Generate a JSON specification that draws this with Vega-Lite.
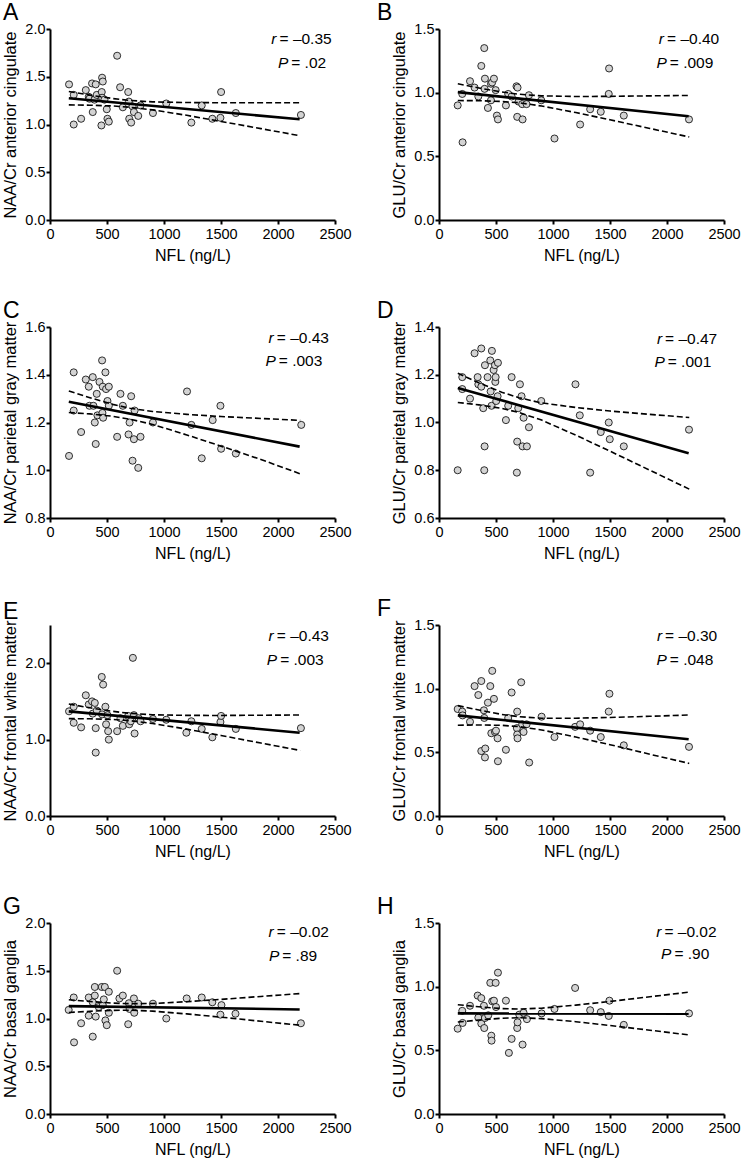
{
"$schema": "https://vega.github.io/schema/vega-lite/v6.json",
"padding": {"left": 2, "top": 2, "right": 0, "bottom": 0},
"bounds": "flush",
"columns": 2,
"spacing": {"row": 107, "column": 104},
"datasets": {
"pts": [
{"p":"A","nfl":167,"val":1.42},{"p":"A","nfl":208,"val":1.31},{"p":"A","nfl":208,"val":1.00},{"p":"A","nfl":273,"val":1.06},{"p":"A","nfl":314,"val":1.36},{"p":"A","nfl":340,"val":1.29},{"p":"A","nfl":346,"val":1.27},{"p":"A","nfl":369,"val":1.43},{"p":"A","nfl":375,"val":1.13},{"p":"A","nfl":390,"val":1.26},{"p":"A","nfl":401,"val":1.42},{"p":"A","nfl":410,"val":1.31},{"p":"A","nfl":451,"val":0.99},{"p":"A","nfl":457,"val":1.49},{"p":"A","nfl":463,"val":1.45},{"p":"A","nfl":454,"val":1.34},{"p":"A","nfl":457,"val":1.28},{"p":"A","nfl":478,"val":1.26},{"p":"A","nfl":498,"val":1.16},{"p":"A","nfl":504,"val":1.06},{"p":"A","nfl":516,"val":1.03},{"p":"A","nfl":589,"val":1.72},{"p":"A","nfl":615,"val":1.39},{"p":"A","nfl":639,"val":1.18},{"p":"A","nfl":686,"val":1.34},{"p":"A","nfl":692,"val":1.24},{"p":"A","nfl":695,"val":1.06},{"p":"A","nfl":712,"val":1.02},{"p":"A","nfl":724,"val":1.19},{"p":"A","nfl":736,"val":1.13},{"p":"A","nfl":774,"val":1.09},{"p":"A","nfl":794,"val":1.20},{"p":"A","nfl":903,"val":1.12},{"p":"A","nfl":1020,"val":1.22},{"p":"A","nfl":1240,"val":1.02},{"p":"A","nfl":1331,"val":1.20},{"p":"A","nfl":1424,"val":1.06},{"p":"A","nfl":1495,"val":1.07},{"p":"A","nfl":1501,"val":1.34},{"p":"A","nfl":1630,"val":1.12},{"p":"A","nfl":2201,"val":1.10},
{"p":"B","nfl":164,"val":0.90},{"p":"B","nfl":204,"val":0.99},{"p":"B","nfl":207,"val":0.61},{"p":"B","nfl":272,"val":1.09},{"p":"B","nfl":312,"val":1.04},{"p":"B","nfl":345,"val":0.97},{"p":"B","nfl":371,"val":1.21},{"p":"B","nfl":397,"val":1.35},{"p":"B","nfl":403,"val":1.11},{"p":"B","nfl":400,"val":1.03},{"p":"B","nfl":429,"val":0.88},{"p":"B","nfl":456,"val":1.07},{"p":"B","nfl":466,"val":1.08},{"p":"B","nfl":456,"val":0.94},{"p":"B","nfl":482,"val":1.11},{"p":"B","nfl":497,"val":1.02},{"p":"B","nfl":508,"val":0.82},{"p":"B","nfl":517,"val":0.79},{"p":"B","nfl":587,"val":0.90},{"p":"B","nfl":607,"val":0.99},{"p":"B","nfl":637,"val":0.97},{"p":"B","nfl":680,"val":1.05},{"p":"B","nfl":689,"val":1.04},{"p":"B","nfl":686,"val":0.81},{"p":"B","nfl":698,"val":0.93},{"p":"B","nfl":730,"val":0.91},{"p":"B","nfl":733,"val":0.79},{"p":"B","nfl":768,"val":0.91},{"p":"B","nfl":789,"val":0.98},{"p":"B","nfl":897,"val":0.94},{"p":"B","nfl":1013,"val":0.64},{"p":"B","nfl":1238,"val":0.75},{"p":"B","nfl":1326,"val":0.87},{"p":"B","nfl":1419,"val":0.85},{"p":"B","nfl":1492,"val":1.19},{"p":"B","nfl":1489,"val":0.99},{"p":"B","nfl":1621,"val":0.82},{"p":"B","nfl":2193,"val":0.79},
{"p":"C","nfl":167,"val":1.06},{"p":"C","nfl":208,"val":1.41},{"p":"C","nfl":208,"val":1.25},{"p":"C","nfl":273,"val":1.16},{"p":"C","nfl":314,"val":1.38},{"p":"C","nfl":340,"val":1.35},{"p":"C","nfl":346,"val":1.27},{"p":"C","nfl":375,"val":1.39},{"p":"C","nfl":381,"val":1.27},{"p":"C","nfl":393,"val":1.20},{"p":"C","nfl":401,"val":1.11},{"p":"C","nfl":410,"val":1.32},{"p":"C","nfl":416,"val":1.23},{"p":"C","nfl":434,"val":1.37},{"p":"C","nfl":457,"val":1.46},{"p":"C","nfl":463,"val":1.35},{"p":"C","nfl":460,"val":1.24},{"p":"C","nfl":466,"val":1.22},{"p":"C","nfl":486,"val":1.41},{"p":"C","nfl":492,"val":1.34},{"p":"C","nfl":504,"val":1.29},{"p":"C","nfl":516,"val":1.35},{"p":"C","nfl":516,"val":1.27},{"p":"C","nfl":589,"val":1.14},{"p":"C","nfl":618,"val":1.32},{"p":"C","nfl":639,"val":1.27},{"p":"C","nfl":689,"val":1.15},{"p":"C","nfl":698,"val":1.20},{"p":"C","nfl":712,"val":1.31},{"p":"C","nfl":724,"val":1.04},{"p":"C","nfl":736,"val":1.13},{"p":"C","nfl":742,"val":1.25},{"p":"C","nfl":774,"val":1.01},{"p":"C","nfl":794,"val":1.14},{"p":"C","nfl":903,"val":1.20},{"p":"C","nfl":1202,"val":1.33},{"p":"C","nfl":1240,"val":1.19},{"p":"C","nfl":1331,"val":1.05},{"p":"C","nfl":1427,"val":1.21},{"p":"C","nfl":1495,"val":1.27},{"p":"C","nfl":1501,"val":1.09},{"p":"C","nfl":1630,"val":1.07},{"p":"C","nfl":2204,"val":1.19},
{"p":"D","nfl":164,"val":0.80},{"p":"D","nfl":204,"val":1.19},{"p":"D","nfl":204,"val":1.14},{"p":"D","nfl":272,"val":1.10},{"p":"D","nfl":312,"val":1.29},{"p":"D","nfl":339,"val":1.19},{"p":"D","nfl":345,"val":1.16},{"p":"D","nfl":371,"val":1.31},{"p":"D","nfl":371,"val":1.15},{"p":"D","nfl":388,"val":1.06},{"p":"D","nfl":400,"val":0.90},{"p":"D","nfl":397,"val":0.80},{"p":"D","nfl":403,"val":1.24},{"p":"D","nfl":426,"val":1.19},{"p":"D","nfl":450,"val":1.26},{"p":"D","nfl":453,"val":1.13},{"p":"D","nfl":461,"val":1.07},{"p":"D","nfl":464,"val":1.30},{"p":"D","nfl":479,"val":1.22},{"p":"D","nfl":491,"val":1.24},{"p":"D","nfl":494,"val":1.17},{"p":"D","nfl":497,"val":1.19},{"p":"D","nfl":502,"val":1.09},{"p":"D","nfl":514,"val":1.11},{"p":"D","nfl":517,"val":1.25},{"p":"D","nfl":587,"val":1.01},{"p":"D","nfl":607,"val":1.07},{"p":"D","nfl":637,"val":1.19},{"p":"D","nfl":686,"val":0.92},{"p":"D","nfl":683,"val":0.79},{"p":"D","nfl":695,"val":1.06},{"p":"D","nfl":710,"val":1.16},{"p":"D","nfl":724,"val":1.11},{"p":"D","nfl":733,"val":0.90},{"p":"D","nfl":742,"val":1.02},{"p":"D","nfl":771,"val":0.90},{"p":"D","nfl":789,"val":0.98},{"p":"D","nfl":897,"val":1.09},{"p":"D","nfl":1197,"val":1.16},{"p":"D","nfl":1235,"val":1.03},{"p":"D","nfl":1326,"val":0.79},{"p":"D","nfl":1419,"val":0.96},{"p":"D","nfl":1489,"val":1.00},{"p":"D","nfl":1498,"val":0.93},{"p":"D","nfl":1621,"val":0.90},{"p":"D","nfl":2193,"val":0.97},
{"p":"E","nfl":167,"val":1.37},{"p":"E","nfl":208,"val":1.43},{"p":"E","nfl":208,"val":1.22},{"p":"E","nfl":273,"val":1.16},{"p":"E","nfl":314,"val":1.58},{"p":"E","nfl":340,"val":1.46},{"p":"E","nfl":369,"val":1.50},{"p":"E","nfl":375,"val":1.34},{"p":"E","nfl":393,"val":1.48},{"p":"E","nfl":401,"val":0.83},{"p":"E","nfl":401,"val":1.15},{"p":"E","nfl":410,"val":1.38},{"p":"E","nfl":454,"val":1.82},{"p":"E","nfl":466,"val":1.72},{"p":"E","nfl":457,"val":1.33},{"p":"E","nfl":486,"val":1.43},{"p":"E","nfl":492,"val":1.20},{"p":"E","nfl":504,"val":1.32},{"p":"E","nfl":510,"val":1.11},{"p":"E","nfl":516,"val":1.00},{"p":"E","nfl":589,"val":1.11},{"p":"E","nfl":618,"val":1.28},{"p":"E","nfl":639,"val":1.18},{"p":"E","nfl":686,"val":1.31},{"p":"E","nfl":695,"val":1.20},{"p":"E","nfl":709,"val":1.24},{"p":"E","nfl":727,"val":2.07},{"p":"E","nfl":736,"val":1.32},{"p":"E","nfl":742,"val":1.08},{"p":"E","nfl":777,"val":1.28},{"p":"E","nfl":794,"val":1.24},{"p":"E","nfl":903,"val":1.27},{"p":"E","nfl":1020,"val":1.26},{"p":"E","nfl":1196,"val":1.09},{"p":"E","nfl":1240,"val":1.24},{"p":"E","nfl":1331,"val":1.14},{"p":"E","nfl":1424,"val":1.03},{"p":"E","nfl":1495,"val":1.23},{"p":"E","nfl":1501,"val":1.31},{"p":"E","nfl":1630,"val":1.14},{"p":"E","nfl":2201,"val":1.15},
{"p":"F","nfl":164,"val":0.84},{"p":"F","nfl":204,"val":0.82},{"p":"F","nfl":207,"val":0.79},{"p":"F","nfl":272,"val":0.74},{"p":"F","nfl":312,"val":1.02},{"p":"F","nfl":345,"val":0.95},{"p":"F","nfl":371,"val":1.06},{"p":"F","nfl":371,"val":0.51},{"p":"F","nfl":394,"val":0.83},{"p":"F","nfl":397,"val":0.77},{"p":"F","nfl":403,"val":0.46},{"p":"F","nfl":406,"val":0.53},{"p":"F","nfl":429,"val":0.89},{"p":"F","nfl":450,"val":1.02},{"p":"F","nfl":459,"val":0.65},{"p":"F","nfl":467,"val":1.14},{"p":"F","nfl":482,"val":0.92},{"p":"F","nfl":491,"val":0.66},{"p":"F","nfl":500,"val":0.67},{"p":"F","nfl":514,"val":0.61},{"p":"F","nfl":517,"val":0.43},{"p":"F","nfl":587,"val":0.52},{"p":"F","nfl":607,"val":0.77},{"p":"F","nfl":637,"val":0.97},{"p":"F","nfl":686,"val":0.82},{"p":"F","nfl":683,"val":0.69},{"p":"F","nfl":686,"val":0.64},{"p":"F","nfl":689,"val":0.61},{"p":"F","nfl":721,"val":1.05},{"p":"F","nfl":730,"val":0.72},{"p":"F","nfl":742,"val":0.66},{"p":"F","nfl":768,"val":0.72},{"p":"F","nfl":791,"val":0.42},{"p":"F","nfl":900,"val":0.78},{"p":"F","nfl":1013,"val":0.62},{"p":"F","nfl":1194,"val":0.70},{"p":"F","nfl":1238,"val":0.72},{"p":"F","nfl":1326,"val":0.67},{"p":"F","nfl":1419,"val":0.62},{"p":"F","nfl":1489,"val":0.82},{"p":"F","nfl":1495,"val":0.96},{"p":"F","nfl":1621,"val":0.555},{"p":"F","nfl":2193,"val":0.543},
{"p":"G","nfl":164,"val":1.09},{"p":"G","nfl":208,"val":1.22},{"p":"G","nfl":211,"val":0.75},{"p":"G","nfl":273,"val":0.95},{"p":"G","nfl":340,"val":1.22},{"p":"G","nfl":340,"val":1.03},{"p":"G","nfl":375,"val":0.81},{"p":"G","nfl":375,"val":1.17},{"p":"G","nfl":393,"val":1.33},{"p":"G","nfl":393,"val":1.24},{"p":"G","nfl":401,"val":1.02},{"p":"G","nfl":428,"val":1.12},{"p":"G","nfl":454,"val":1.33},{"p":"G","nfl":463,"val":1.14},{"p":"G","nfl":472,"val":1.20},{"p":"G","nfl":481,"val":1.33},{"p":"G","nfl":486,"val":0.98},{"p":"G","nfl":498,"val":0.93},{"p":"G","nfl":516,"val":1.28},{"p":"G","nfl":516,"val":1.06},{"p":"G","nfl":589,"val":1.50},{"p":"G","nfl":609,"val":1.21},{"p":"G","nfl":639,"val":1.24},{"p":"G","nfl":686,"val":0.94},{"p":"G","nfl":692,"val":1.16},{"p":"G","nfl":698,"val":1.10},{"p":"G","nfl":736,"val":1.21},{"p":"G","nfl":739,"val":1.06},{"p":"G","nfl":774,"val":1.155},{"p":"G","nfl":903,"val":1.155},{"p":"G","nfl":1020,"val":1.00},{"p":"G","nfl":1199,"val":1.21},{"p":"G","nfl":1331,"val":1.22},{"p":"G","nfl":1424,"val":1.17},{"p":"G","nfl":1495,"val":1.04},{"p":"G","nfl":1504,"val":1.14},{"p":"G","nfl":1627,"val":1.05},{"p":"G","nfl":2201,"val":0.95},
{"p":"H","nfl":164,"val":0.67},{"p":"H","nfl":204,"val":0.81},{"p":"H","nfl":207,"val":0.715},{"p":"H","nfl":272,"val":0.85},{"p":"H","nfl":339,"val":0.93},{"p":"H","nfl":345,"val":0.757},{"p":"H","nfl":371,"val":0.91},{"p":"H","nfl":371,"val":0.71},{"p":"H","nfl":394,"val":0.85},{"p":"H","nfl":397,"val":0.675},{"p":"H","nfl":403,"val":0.754},{"p":"H","nfl":432,"val":0.775},{"p":"H","nfl":450,"val":1.03},{"p":"H","nfl":459,"val":0.615},{"p":"H","nfl":461,"val":0.576},{"p":"H","nfl":467,"val":0.885},{"p":"H","nfl":482,"val":0.89},{"p":"H","nfl":497,"val":1.03},{"p":"H","nfl":500,"val":0.84},{"p":"H","nfl":517,"val":1.11},{"p":"H","nfl":587,"val":0.89},{"p":"H","nfl":613,"val":0.48},{"p":"H","nfl":637,"val":0.59},{"p":"H","nfl":686,"val":0.675},{"p":"H","nfl":689,"val":0.72},{"p":"H","nfl":704,"val":0.78},{"p":"H","nfl":733,"val":0.545},{"p":"H","nfl":742,"val":0.795},{"p":"H","nfl":771,"val":0.745},{"p":"H","nfl":900,"val":0.79},{"p":"H","nfl":1013,"val":0.825},{"p":"H","nfl":1194,"val":0.99},{"p":"H","nfl":1326,"val":0.815},{"p":"H","nfl":1419,"val":0.80},{"p":"H","nfl":1489,"val":0.77},{"p":"H","nfl":1495,"val":0.89},{"p":"H","nfl":1621,"val":0.70},{"p":"H","nfl":2193,"val":0.79}
],
"fits": [
{"p":"A","b":"fit","nfl":165,"val":1.275},{"p":"A","b":"fit","nfl":2190,"val":1.055},
{"p":"A","b":"hi","nfl":165,"val":1.345},{"p":"A","b":"hi","nfl":350,"val":1.308},{"p":"A","b":"hi","nfl":550,"val":1.272},{"p":"A","b":"hi","nfl":700,"val":1.252},{"p":"A","b":"hi","nfl":900,"val":1.237},{"p":"A","b":"hi","nfl":1200,"val":1.230},{"p":"A","b":"hi","nfl":1500,"val":1.228},{"p":"A","b":"hi","nfl":1850,"val":1.227},{"p":"A","b":"hi","nfl":2195,"val":1.228},
{"p":"A","b":"lo","nfl":165,"val":1.205},{"p":"A","b":"lo","nfl":350,"val":1.202},{"p":"A","b":"lo","nfl":550,"val":1.194},{"p":"A","b":"lo","nfl":700,"val":1.181},{"p":"A","b":"lo","nfl":900,"val":1.153},{"p":"A","b":"lo","nfl":1200,"val":1.096},{"p":"A","b":"lo","nfl":1500,"val":1.032},{"p":"A","b":"lo","nfl":1850,"val":0.957},{"p":"A","b":"lo","nfl":2195,"val":0.882},
{"p":"B","b":"fit","nfl":165,"val":1.004},{"p":"B","b":"fit","nfl":2190,"val":0.815},
{"p":"B","b":"hi","nfl":165,"val":1.070},{"p":"B","b":"hi","nfl":350,"val":1.037},{"p":"B","b":"hi","nfl":550,"val":1.005},{"p":"B","b":"hi","nfl":700,"val":0.988},{"p":"B","b":"hi","nfl":900,"val":0.975},{"p":"B","b":"hi","nfl":1200,"val":0.970},{"p":"B","b":"hi","nfl":1500,"val":0.971},{"p":"B","b":"hi","nfl":1850,"val":0.975},{"p":"B","b":"hi","nfl":2195,"val":0.978},
{"p":"B","b":"lo","nfl":165,"val":0.938},{"p":"B","b":"lo","nfl":350,"val":0.937},{"p":"B","b":"lo","nfl":550,"val":0.931},{"p":"B","b":"lo","nfl":700,"val":0.921},{"p":"B","b":"lo","nfl":900,"val":0.895},{"p":"B","b":"lo","nfl":1200,"val":0.844},{"p":"B","b":"lo","nfl":1500,"val":0.787},{"p":"B","b":"lo","nfl":1850,"val":0.719},{"p":"B","b":"lo","nfl":2195,"val":0.652},
{"p":"C","b":"fit","nfl":165,"val":1.287},{"p":"C","b":"fit","nfl":2190,"val":1.099},
{"p":"C","b":"hi","nfl":165,"val":1.332},{"p":"C","b":"hi","nfl":350,"val":1.304},{"p":"C","b":"hi","nfl":550,"val":1.276},{"p":"C","b":"hi","nfl":700,"val":1.260},{"p":"C","b":"hi","nfl":900,"val":1.246},{"p":"C","b":"hi","nfl":1200,"val":1.234},{"p":"C","b":"hi","nfl":1500,"val":1.225},{"p":"C","b":"hi","nfl":1850,"val":1.217},{"p":"C","b":"hi","nfl":2195,"val":1.209},
{"p":"C","b":"lo","nfl":165,"val":1.242},{"p":"C","b":"lo","nfl":350,"val":1.236},{"p":"C","b":"lo","nfl":550,"val":1.226},{"p":"C","b":"lo","nfl":700,"val":1.214},{"p":"C","b":"lo","nfl":900,"val":1.192},{"p":"C","b":"lo","nfl":1200,"val":1.148},{"p":"C","b":"lo","nfl":1500,"val":1.101},{"p":"C","b":"lo","nfl":1850,"val":1.045},{"p":"C","b":"lo","nfl":2195,"val":0.985},
{"p":"D","b":"fit","nfl":165,"val":1.145},{"p":"D","b":"fit","nfl":2190,"val":0.871},
{"p":"D","b":"hi","nfl":165,"val":1.206},{"p":"D","b":"hi","nfl":350,"val":1.166},{"p":"D","b":"hi","nfl":550,"val":1.127},{"p":"D","b":"hi","nfl":700,"val":1.104},{"p":"D","b":"hi","nfl":900,"val":1.082},{"p":"D","b":"hi","nfl":1200,"val":1.063},{"p":"D","b":"hi","nfl":1500,"val":1.048},{"p":"D","b":"hi","nfl":1850,"val":1.034},{"p":"D","b":"hi","nfl":2195,"val":1.021},
{"p":"D","b":"lo","nfl":165,"val":1.084},{"p":"D","b":"lo","nfl":350,"val":1.074},{"p":"D","b":"lo","nfl":550,"val":1.059},{"p":"D","b":"lo","nfl":700,"val":1.042},{"p":"D","b":"lo","nfl":900,"val":1.010},{"p":"D","b":"lo","nfl":1200,"val":0.947},{"p":"D","b":"lo","nfl":1500,"val":0.880},{"p":"D","b":"lo","nfl":1850,"val":0.800},{"p":"D","b":"lo","nfl":2195,"val":0.721},
{"p":"E","b":"fit","nfl":165,"val":1.37},{"p":"E","b":"fit","nfl":2190,"val":1.09},
{"p":"E","b":"hi","nfl":165,"val":1.465},{"p":"E","b":"hi","nfl":350,"val":1.416},{"p":"E","b":"hi","nfl":550,"val":1.370},{"p":"E","b":"hi","nfl":700,"val":1.344},{"p":"E","b":"hi","nfl":900,"val":1.325},{"p":"E","b":"hi","nfl":1200,"val":1.317},{"p":"E","b":"hi","nfl":1500,"val":1.316},{"p":"E","b":"hi","nfl":1850,"val":1.319},{"p":"E","b":"hi","nfl":2195,"val":1.322},
{"p":"E","b":"lo","nfl":165,"val":1.275},{"p":"E","b":"lo","nfl":350,"val":1.272},{"p":"E","b":"lo","nfl":550,"val":1.264},{"p":"E","b":"lo","nfl":700,"val":1.248},{"p":"E","b":"lo","nfl":900,"val":1.211},{"p":"E","b":"lo","nfl":1200,"val":1.137},{"p":"E","b":"lo","nfl":1500,"val":1.054},{"p":"E","b":"lo","nfl":1850,"val":0.955},{"p":"E","b":"lo","nfl":2195,"val":0.858},
{"p":"F","b":"fit","nfl":165,"val":0.79},{"p":"F","b":"fit","nfl":2190,"val":0.603},
{"p":"F","b":"hi","nfl":165,"val":0.867},{"p":"F","b":"hi","nfl":350,"val":0.832},{"p":"F","b":"hi","nfl":550,"val":0.798},{"p":"F","b":"hi","nfl":700,"val":0.780},{"p":"F","b":"hi","nfl":900,"val":0.768},{"p":"F","b":"hi","nfl":1200,"val":0.768},{"p":"F","b":"hi","nfl":1500,"val":0.774},{"p":"F","b":"hi","nfl":1850,"val":0.783},{"p":"F","b":"hi","nfl":2195,"val":0.793},
{"p":"F","b":"lo","nfl":165,"val":0.713},{"p":"F","b":"lo","nfl":350,"val":0.715},{"p":"F","b":"lo","nfl":550,"val":0.712},{"p":"F","b":"lo","nfl":700,"val":0.702},{"p":"F","b":"lo","nfl":900,"val":0.676},{"p":"F","b":"lo","nfl":1200,"val":0.620},{"p":"F","b":"lo","nfl":1500,"val":0.560},{"p":"F","b":"lo","nfl":1850,"val":0.485},{"p":"F","b":"lo","nfl":2195,"val":0.413},
{"p":"G","b":"fit","nfl":165,"val":1.13},{"p":"G","b":"fit","nfl":2190,"val":1.095},
{"p":"G","b":"hi","nfl":165,"val":1.197},{"p":"G","b":"hi","nfl":350,"val":1.178},{"p":"G","b":"hi","nfl":550,"val":1.161},{"p":"G","b":"hi","nfl":700,"val":1.155},{"p":"G","b":"hi","nfl":900,"val":1.157},{"p":"G","b":"hi","nfl":1200,"val":1.176},{"p":"G","b":"hi","nfl":1500,"val":1.200},{"p":"G","b":"hi","nfl":1850,"val":1.231},{"p":"G","b":"hi","nfl":2195,"val":1.261},
{"p":"G","b":"lo","nfl":165,"val":1.063},{"p":"G","b":"lo","nfl":350,"val":1.076},{"p":"G","b":"lo","nfl":550,"val":1.085},{"p":"G","b":"lo","nfl":700,"val":1.087},{"p":"G","b":"lo","nfl":900,"val":1.077},{"p":"G","b":"lo","nfl":1200,"val":1.048},{"p":"G","b":"lo","nfl":1500,"val":1.014},{"p":"G","b":"lo","nfl":1850,"val":0.971},{"p":"G","b":"lo","nfl":2195,"val":0.929},
{"p":"H","b":"fit","nfl":165,"val":0.79},{"p":"H","b":"fit","nfl":2190,"val":0.788},
{"p":"H","b":"hi","nfl":165,"val":0.858},{"p":"H","b":"hi","nfl":350,"val":0.842},{"p":"H","b":"hi","nfl":550,"val":0.828},{"p":"H","b":"hi","nfl":700,"val":0.824},{"p":"H","b":"hi","nfl":900,"val":0.831},{"p":"H","b":"hi","nfl":1200,"val":0.855},{"p":"H","b":"hi","nfl":1500,"val":0.884},{"p":"H","b":"hi","nfl":1850,"val":0.921},{"p":"H","b":"hi","nfl":2195,"val":0.957},
{"p":"H","b":"lo","nfl":165,"val":0.722},{"p":"H","b":"lo","nfl":350,"val":0.738},{"p":"H","b":"lo","nfl":550,"val":0.752},{"p":"H","b":"lo","nfl":700,"val":0.756},{"p":"H","b":"lo","nfl":900,"val":0.749},{"p":"H","b":"lo","nfl":1200,"val":0.725},{"p":"H","b":"lo","nfl":1500,"val":0.695},{"p":"H","b":"lo","nfl":1850,"val":0.658},{"p":"H","b":"lo","nfl":2195,"val":0.621}
],
"notes": [
{"p":"A","nfl":1987,"val":1.895,"letter":"r","rest":"= –0.35"},{"p":"A","nfl":2090,"val":1.645,"letter":"P","rest":"= .02"},
{"p":"B","nfl":1974,"val":1.421,"letter":"r","rest":"= –0.40"},{"p":"B","nfl":1998,"val":1.233,"letter":"P","rest":"= .009"},
{"p":"C","nfl":1963,"val":1.555,"letter":"r","rest":"= –0.43"},{"p":"C","nfl":1981,"val":1.457,"letter":"P","rest":"= .003"},
{"p":"D","nfl":1957,"val":1.351,"letter":"r","rest":"= –0.47"},{"p":"D","nfl":1980,"val":1.253,"letter":"P","rest":"= .001"},
{"p":"E","nfl":1963,"val":2.352,"letter":"r","rest":"= –0.43"},{"p":"E","nfl":1993,"val":2.043,"letter":"P","rest":"= .003"},
{"p":"F","nfl":1957,"val":1.417,"letter":"r","rest":"= –0.30"},{"p":"F","nfl":1998,"val":1.226,"letter":"P","rest":"= .048"},
{"p":"G","nfl":1963,"val":1.906,"letter":"r","rest":"= –0.02"},{"p":"G","nfl":2011,"val":1.654,"letter":"P","rest":"= .89"},
{"p":"H","nfl":1951,"val":1.429,"letter":"r","rest":"= –0.02"},{"p":"H","nfl":2039,"val":1.259,"letter":"P","rest":"= .90"}
]
},
"concat": [
{"title": {"text": "A", "dx": -47}, "width": 285, "height": 191, "layer": [
{"data": {"name": "pts"}, "transform": [{"filter": "datum.p==='A'"}], "mark": {"type": "circle", "fill": "#d3d3d3", "stroke": "black", "strokeWidth": 0.8, "size": 50, "opacity": 1},
 "encoding": {"x": {"field": "nfl", "type": "quantitative", "scale": {"domain": [0, 2500], "nice": false}, "axis": {"title": "NFL (ng/L)", "values": [0, 500, 1000, 1500, 2000, 2500], "format": "d"}},
  "y": {"field": "val", "type": "quantitative", "scale": {"domain": [0, 2], "nice": false}, "axis": {"title": "NAA/Cr anterior cingulate", "values": [0, 0.5, 1, 1.5, 2], "format": ".1f"}}}},
{"data": {"name": "fits"}, "transform": [{"filter": "datum.p==='A' && datum.b!=='fit'"}], "mark": {"type": "line", "color": "black", "strokeWidth": 1.6, "strokeDash": [6, 3]},
 "encoding": {"x": {"field": "nfl", "type": "quantitative"}, "y": {"field": "val", "type": "quantitative"}, "detail": {"field": "b"}}},
{"data": {"name": "fits"}, "transform": [{"filter": "datum.p==='A' && datum.b==='fit'"}], "mark": {"type": "line", "color": "black", "strokeWidth": 2.6},
 "encoding": {"x": {"field": "nfl", "type": "quantitative"}, "y": {"field": "val", "type": "quantitative"}}},
{"data": {"name": "notes"}, "transform": [{"filter": "datum.p==='A'"}], "mark": {"type": "text", "align": "right", "fontStyle": "italic"},
 "encoding": {"x": {"field": "nfl", "type": "quantitative"}, "y": {"field": "val", "type": "quantitative"}, "text": {"field": "letter"}}},
{"data": {"name": "notes"}, "transform": [{"filter": "datum.p==='A'"}], "mark": {"type": "text", "align": "left", "dx": 3},
 "encoding": {"x": {"field": "nfl", "type": "quantitative"}, "y": {"field": "val", "type": "quantitative"}, "text": {"field": "rest"}}}
]},
{"title": {"text": "B", "dx": -62}, "width": 285, "height": 191, "layer": [
{"data": {"name": "pts"}, "transform": [{"filter": "datum.p==='B'"}], "mark": {"type": "circle", "fill": "#d3d3d3", "stroke": "black", "strokeWidth": 0.8, "size": 50, "opacity": 1},
 "encoding": {"x": {"field": "nfl", "type": "quantitative", "scale": {"domain": [0, 2500], "nice": false}, "axis": {"title": "NFL (ng/L)", "values": [0, 500, 1000, 1500, 2000, 2500], "format": "d"}},
  "y": {"field": "val", "type": "quantitative", "scale": {"domain": [0, 1.5], "nice": false}, "axis": {"title": "GLU/Cr anterior cingulate", "values": [0, 0.5, 1, 1.5], "format": ".1f"}}}},
{"data": {"name": "fits"}, "transform": [{"filter": "datum.p==='B' && datum.b!=='fit'"}], "mark": {"type": "line", "color": "black", "strokeWidth": 1.6, "strokeDash": [6, 3]},
 "encoding": {"x": {"field": "nfl", "type": "quantitative"}, "y": {"field": "val", "type": "quantitative"}, "detail": {"field": "b"}}},
{"data": {"name": "fits"}, "transform": [{"filter": "datum.p==='B' && datum.b==='fit'"}], "mark": {"type": "line", "color": "black", "strokeWidth": 2.6},
 "encoding": {"x": {"field": "nfl", "type": "quantitative"}, "y": {"field": "val", "type": "quantitative"}}},
{"data": {"name": "notes"}, "transform": [{"filter": "datum.p==='B'"}], "mark": {"type": "text", "align": "right", "fontStyle": "italic"},
 "encoding": {"x": {"field": "nfl", "type": "quantitative"}, "y": {"field": "val", "type": "quantitative"}, "text": {"field": "letter"}}},
{"data": {"name": "notes"}, "transform": [{"filter": "datum.p==='B'"}], "mark": {"type": "text", "align": "left", "dx": 3},
 "encoding": {"x": {"field": "nfl", "type": "quantitative"}, "y": {"field": "val", "type": "quantitative"}, "text": {"field": "rest"}}}
]},
{"title": {"text": "C", "dx": -47}, "width": 285, "height": 191, "layer": [
{"data": {"name": "pts"}, "transform": [{"filter": "datum.p==='C'"}], "mark": {"type": "circle", "fill": "#d3d3d3", "stroke": "black", "strokeWidth": 0.8, "size": 50, "opacity": 1},
 "encoding": {"x": {"field": "nfl", "type": "quantitative", "scale": {"domain": [0, 2500], "nice": false}, "axis": {"title": "NFL (ng/L)", "values": [0, 500, 1000, 1500, 2000, 2500], "format": "d"}},
  "y": {"field": "val", "type": "quantitative", "scale": {"domain": [0.8, 1.6], "nice": false, "zero": false}, "axis": {"title": "NAA/Cr parietal gray matter", "values": [0.8, 1.0, 1.2, 1.4, 1.6], "format": ".1f"}}}},
{"data": {"name": "fits"}, "transform": [{"filter": "datum.p==='C' && datum.b!=='fit'"}], "mark": {"type": "line", "color": "black", "strokeWidth": 1.6, "strokeDash": [6, 3]},
 "encoding": {"x": {"field": "nfl", "type": "quantitative"}, "y": {"field": "val", "type": "quantitative"}, "detail": {"field": "b"}}},
{"data": {"name": "fits"}, "transform": [{"filter": "datum.p==='C' && datum.b==='fit'"}], "mark": {"type": "line", "color": "black", "strokeWidth": 2.6},
 "encoding": {"x": {"field": "nfl", "type": "quantitative"}, "y": {"field": "val", "type": "quantitative"}}},
{"data": {"name": "notes"}, "transform": [{"filter": "datum.p==='C'"}], "mark": {"type": "text", "align": "right", "fontStyle": "italic"},
 "encoding": {"x": {"field": "nfl", "type": "quantitative"}, "y": {"field": "val", "type": "quantitative"}, "text": {"field": "letter"}}},
{"data": {"name": "notes"}, "transform": [{"filter": "datum.p==='C'"}], "mark": {"type": "text", "align": "left", "dx": 3},
 "encoding": {"x": {"field": "nfl", "type": "quantitative"}, "y": {"field": "val", "type": "quantitative"}, "text": {"field": "rest"}}}
]},
{"title": {"text": "D", "dx": -62}, "width": 285, "height": 191, "layer": [
{"data": {"name": "pts"}, "transform": [{"filter": "datum.p==='D'"}], "mark": {"type": "circle", "fill": "#d3d3d3", "stroke": "black", "strokeWidth": 0.8, "size": 50, "opacity": 1},
 "encoding": {"x": {"field": "nfl", "type": "quantitative", "scale": {"domain": [0, 2500], "nice": false}, "axis": {"title": "NFL (ng/L)", "values": [0, 500, 1000, 1500, 2000, 2500], "format": "d"}},
  "y": {"field": "val", "type": "quantitative", "scale": {"domain": [0.6, 1.4], "nice": false, "zero": false}, "axis": {"title": "GLU/Cr parietal gray matter", "values": [0.6, 0.8, 1.0, 1.2, 1.4], "format": ".1f"}}}},
{"data": {"name": "fits"}, "transform": [{"filter": "datum.p==='D' && datum.b!=='fit'"}], "mark": {"type": "line", "color": "black", "strokeWidth": 1.6, "strokeDash": [6, 3]},
 "encoding": {"x": {"field": "nfl", "type": "quantitative"}, "y": {"field": "val", "type": "quantitative"}, "detail": {"field": "b"}}},
{"data": {"name": "fits"}, "transform": [{"filter": "datum.p==='D' && datum.b==='fit'"}], "mark": {"type": "line", "color": "black", "strokeWidth": 2.6},
 "encoding": {"x": {"field": "nfl", "type": "quantitative"}, "y": {"field": "val", "type": "quantitative"}}},
{"data": {"name": "notes"}, "transform": [{"filter": "datum.p==='D'"}], "mark": {"type": "text", "align": "right", "fontStyle": "italic"},
 "encoding": {"x": {"field": "nfl", "type": "quantitative"}, "y": {"field": "val", "type": "quantitative"}, "text": {"field": "letter"}}},
{"data": {"name": "notes"}, "transform": [{"filter": "datum.p==='D'"}], "mark": {"type": "text", "align": "left", "dx": 3},
 "encoding": {"x": {"field": "nfl", "type": "quantitative"}, "y": {"field": "val", "type": "quantitative"}, "text": {"field": "rest"}}}
]},
{"title": {"text": "E", "dx": -47}, "width": 285, "height": 191, "layer": [
{"data": {"name": "pts"}, "transform": [{"filter": "datum.p==='E'"}], "mark": {"type": "circle", "fill": "#d3d3d3", "stroke": "black", "strokeWidth": 0.8, "size": 50, "opacity": 1},
 "encoding": {"x": {"field": "nfl", "type": "quantitative", "scale": {"domain": [0, 2500], "nice": false}, "axis": {"title": "NFL (ng/L)", "values": [0, 500, 1000, 1500, 2000, 2500], "format": "d"}},
  "y": {"field": "val", "type": "quantitative", "scale": {"domain": [0, 2.5], "nice": false}, "axis": {"title": "NAA/Cr frontal white matter", "values": [0, 0.5, 1, 1.5, 2, 2.5], "format": ".1f"}}}},
{"data": {"name": "fits"}, "transform": [{"filter": "datum.p==='E' && datum.b!=='fit'"}], "mark": {"type": "line", "color": "black", "strokeWidth": 1.6, "strokeDash": [6, 3]},
 "encoding": {"x": {"field": "nfl", "type": "quantitative"}, "y": {"field": "val", "type": "quantitative"}, "detail": {"field": "b"}}},
{"data": {"name": "fits"}, "transform": [{"filter": "datum.p==='E' && datum.b==='fit'"}], "mark": {"type": "line", "color": "black", "strokeWidth": 2.6},
 "encoding": {"x": {"field": "nfl", "type": "quantitative"}, "y": {"field": "val", "type": "quantitative"}}},
{"data": {"name": "notes"}, "transform": [{"filter": "datum.p==='E'"}], "mark": {"type": "text", "align": "right", "fontStyle": "italic"},
 "encoding": {"x": {"field": "nfl", "type": "quantitative"}, "y": {"field": "val", "type": "quantitative"}, "text": {"field": "letter"}}},
{"data": {"name": "notes"}, "transform": [{"filter": "datum.p==='E'"}], "mark": {"type": "text", "align": "left", "dx": 3},
 "encoding": {"x": {"field": "nfl", "type": "quantitative"}, "y": {"field": "val", "type": "quantitative"}, "text": {"field": "rest"}}}
]},
{"title": {"text": "F", "dx": -62}, "width": 285, "height": 191, "layer": [
{"data": {"name": "pts"}, "transform": [{"filter": "datum.p==='F'"}], "mark": {"type": "circle", "fill": "#d3d3d3", "stroke": "black", "strokeWidth": 0.8, "size": 50, "opacity": 1},
 "encoding": {"x": {"field": "nfl", "type": "quantitative", "scale": {"domain": [0, 2500], "nice": false}, "axis": {"title": "NFL (ng/L)", "values": [0, 500, 1000, 1500, 2000, 2500], "format": "d"}},
  "y": {"field": "val", "type": "quantitative", "scale": {"domain": [0, 1.5], "nice": false}, "axis": {"title": "GLU/Cr frontal white matter", "values": [0, 0.5, 1, 1.5], "format": ".1f"}}}},
{"data": {"name": "fits"}, "transform": [{"filter": "datum.p==='F' && datum.b!=='fit'"}], "mark": {"type": "line", "color": "black", "strokeWidth": 1.6, "strokeDash": [6, 3]},
 "encoding": {"x": {"field": "nfl", "type": "quantitative"}, "y": {"field": "val", "type": "quantitative"}, "detail": {"field": "b"}}},
{"data": {"name": "fits"}, "transform": [{"filter": "datum.p==='F' && datum.b==='fit'"}], "mark": {"type": "line", "color": "black", "strokeWidth": 2.6},
 "encoding": {"x": {"field": "nfl", "type": "quantitative"}, "y": {"field": "val", "type": "quantitative"}}},
{"data": {"name": "notes"}, "transform": [{"filter": "datum.p==='F'"}], "mark": {"type": "text", "align": "right", "fontStyle": "italic"},
 "encoding": {"x": {"field": "nfl", "type": "quantitative"}, "y": {"field": "val", "type": "quantitative"}, "text": {"field": "letter"}}},
{"data": {"name": "notes"}, "transform": [{"filter": "datum.p==='F'"}], "mark": {"type": "text", "align": "left", "dx": 3},
 "encoding": {"x": {"field": "nfl", "type": "quantitative"}, "y": {"field": "val", "type": "quantitative"}, "text": {"field": "rest"}}}
]},
{"title": {"text": "G", "dx": -47}, "width": 285, "height": 191, "layer": [
{"data": {"name": "pts"}, "transform": [{"filter": "datum.p==='G'"}], "mark": {"type": "circle", "fill": "#d3d3d3", "stroke": "black", "strokeWidth": 0.8, "size": 50, "opacity": 1},
 "encoding": {"x": {"field": "nfl", "type": "quantitative", "scale": {"domain": [0, 2500], "nice": false}, "axis": {"title": "NFL (ng/L)", "values": [0, 500, 1000, 1500, 2000, 2500], "format": "d"}},
  "y": {"field": "val", "type": "quantitative", "scale": {"domain": [0, 2], "nice": false}, "axis": {"title": "NAA/Cr basal ganglia", "values": [0, 0.5, 1, 1.5, 2], "format": ".1f"}}}},
{"data": {"name": "fits"}, "transform": [{"filter": "datum.p==='G' && datum.b!=='fit'"}], "mark": {"type": "line", "color": "black", "strokeWidth": 1.6, "strokeDash": [6, 3]},
 "encoding": {"x": {"field": "nfl", "type": "quantitative"}, "y": {"field": "val", "type": "quantitative"}, "detail": {"field": "b"}}},
{"data": {"name": "fits"}, "transform": [{"filter": "datum.p==='G' && datum.b==='fit'"}], "mark": {"type": "line", "color": "black", "strokeWidth": 2.6},
 "encoding": {"x": {"field": "nfl", "type": "quantitative"}, "y": {"field": "val", "type": "quantitative"}}},
{"data": {"name": "notes"}, "transform": [{"filter": "datum.p==='G'"}], "mark": {"type": "text", "align": "right", "fontStyle": "italic"},
 "encoding": {"x": {"field": "nfl", "type": "quantitative"}, "y": {"field": "val", "type": "quantitative"}, "text": {"field": "letter"}}},
{"data": {"name": "notes"}, "transform": [{"filter": "datum.p==='G'"}], "mark": {"type": "text", "align": "left", "dx": 3},
 "encoding": {"x": {"field": "nfl", "type": "quantitative"}, "y": {"field": "val", "type": "quantitative"}, "text": {"field": "rest"}}}
]},
{"title": {"text": "H", "dx": -62}, "width": 285, "height": 191, "layer": [
{"data": {"name": "pts"}, "transform": [{"filter": "datum.p==='H'"}], "mark": {"type": "circle", "fill": "#d3d3d3", "stroke": "black", "strokeWidth": 0.8, "size": 50, "opacity": 1},
 "encoding": {"x": {"field": "nfl", "type": "quantitative", "scale": {"domain": [0, 2500], "nice": false}, "axis": {"title": "NFL (ng/L)", "values": [0, 500, 1000, 1500, 2000, 2500], "format": "d"}},
  "y": {"field": "val", "type": "quantitative", "scale": {"domain": [0, 1.5], "nice": false}, "axis": {"title": "GLU/Cr basal ganglia", "values": [0, 0.5, 1, 1.5], "format": ".1f"}}}},
{"data": {"name": "fits"}, "transform": [{"filter": "datum.p==='H' && datum.b!=='fit'"}], "mark": {"type": "line", "color": "black", "strokeWidth": 1.6, "strokeDash": [6, 3]},
 "encoding": {"x": {"field": "nfl", "type": "quantitative"}, "y": {"field": "val", "type": "quantitative"}, "detail": {"field": "b"}}},
{"data": {"name": "fits"}, "transform": [{"filter": "datum.p==='H' && datum.b==='fit'"}], "mark": {"type": "line", "color": "black", "strokeWidth": 2.6},
 "encoding": {"x": {"field": "nfl", "type": "quantitative"}, "y": {"field": "val", "type": "quantitative"}}},
{"data": {"name": "notes"}, "transform": [{"filter": "datum.p==='H'"}], "mark": {"type": "text", "align": "right", "fontStyle": "italic"},
 "encoding": {"x": {"field": "nfl", "type": "quantitative"}, "y": {"field": "val", "type": "quantitative"}, "text": {"field": "letter"}}},
{"data": {"name": "notes"}, "transform": [{"filter": "datum.p==='H'"}], "mark": {"type": "text", "align": "left", "dx": 3},
 "encoding": {"x": {"field": "nfl", "type": "quantitative"}, "y": {"field": "val", "type": "quantitative"}, "text": {"field": "rest"}}}
]}
],
"config": {
 "view": {"stroke": null},
 "font": "Liberation Sans",
 "axis": {"domainColor": "black", "domainWidth": 2, "tickColor": "black", "tickWidth": 2, "tickSize": 4, "labelFont": "Liberation Sans", "labelFontSize": 14.5, "labelColor": "black", "titleFont": "Liberation Sans", "titleFontSize": 16.5, "titleFontWeight": "normal", "titleColor": "black", "grid": false, "labelFlush": false, "labelOverlap": false},
 "axisX": {"labelPadding": 3, "titlePadding": 7, "titleFontSize": 16},
 "axisY": {"labelPadding": 1, "titlePadding": 6},
 "title": {"anchor": "start", "frame": "group", "fontSize": 23, "fontWeight": "normal", "font": "Liberation Sans", "color": "black", "offset": -4},
 "text": {"font": "Liberation Sans", "fontSize": 15.5, "color": "black", "baseline": "middle"}
}
}
